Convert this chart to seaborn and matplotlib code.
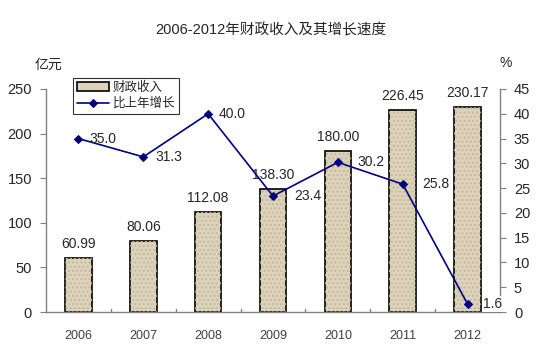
import numpy as np
import pandas as pd
import matplotlib
matplotlib.use("Agg")
import matplotlib.pyplot as plt
from matplotlib.patches import Rectangle
import seaborn as sns

years = ["2006", "2007", "2008", "2009", "2010", "2011", "2012"]
revenue = [60.99, 80.06, 112.08, 138.30, 180.00, 226.45, 230.17]
growth = [35.0, 31.3, 40.0, 23.4, 30.2, 25.8, 1.6]

sns.set_style("white")
plt.rcParams['font.family'] = ['Liberation Sans', 'Noto Sans CJK SC', 'DejaVu Sans']

df = pd.DataFrame({"year": years, "revenue": revenue, "growth": growth})

fig = plt.figure(figsize=(5.39, 3.54), dpi=100)
ax = fig.add_axes([46 / 539, 1 - 312 / 354, 454 / 539, 223 / 354])

sns.barplot(data=df, x="year", y="revenue", ax=ax, color="#ddd3ba",
            width=0.41, edgecolor="black", linewidth=1.2, saturation=1,
            label="财政收入")
# light texture on the bars
for p in list(ax.patches):
    ax.add_patch(Rectangle(p.get_xy(), p.get_width(), p.get_height(),
                           facecolor="none", edgecolor="#c4b89c", hatch="....",
                           lw=0, zorder=p.get_zorder() + 0.1))
ax.set_ylim(0, 250)
ax.set_xlim(-0.5, 6.5)
ax.set_yticks(range(0, 251, 50))
ax.set_xlabel("")
ax.set_ylabel("")

for i, v in enumerate(revenue):
    ax.annotate(f"{v:.2f}", (i, v), xytext=(0, 5), textcoords="offset points",
                ha="center", va="bottom", fontsize=10)

ax2 = ax.twinx()
sns.lineplot(x=np.arange(len(years)), y=growth, ax=ax2, color="#000080",
             marker="D", markersize=4.5, markeredgecolor="#000080",
             linewidth=1.2, label="比上年增长", legend=False)
ax2.set_ylim(0, 45)
ax2.set_yticks(range(0, 46, 5))
ax2.set_xlim(-0.5, 6.5)

label_dx = [11, 12, 10, 21, 20, 20, 15]
for i, v in enumerate(growth):
    bbox = dict(facecolor="white", edgecolor="none", pad=0.5) if i == 6 else None
    ax2.annotate(f"{v:.1f}", (i, v), xytext=(label_dx[i], 0), textcoords="offset pixels",
                 ha="left", va="center", fontsize=10, bbox=bbox)

# spines and ticks
for a in (ax, ax2):
    a.spines["top"].set_visible(False)
    for s in ("left", "right", "bottom"):
        a.spines[s].set_color("#808080")
        a.spines[s].set_linewidth(1.0)
ax.spines["right"].set_visible(False)
ax2.spines["left"].set_visible(False)
ax2.spines["bottom"].set_visible(False)

ax.tick_params(axis="y", direction="out", length=4, color="#808080",
               labelsize=10.5, left=True, pad=6)
ax2.tick_params(axis="y", direction="out", length=4, color="#808080",
                labelsize=10.5, right=True, pad=6)
ax.set_xticks(np.arange(len(years)))
ax.set_xticklabels(years, fontsize=9, color="#404040")
ax.tick_params(axis="x", length=0, pad=13)
for b in np.arange(0.5, 6, 1.0):
    ax.plot([b, b], [0, 3], color="#808080", lw=1.0, clip_on=False)

fig.text(271 / 539, 1 - 30 / 354, "2006-2012年财政收入及其增长速度",
         ha="center", va="center", fontsize=10.5)
fig.text(48 / 539, 1 - 65 / 354, "亿元", ha="center", va="center", fontsize=10)
fig.text(506 / 539, 1 - 63 / 354, "%", ha="center", va="center", fontsize=10)

h1, l1 = ax.get_legend_handles_labels()
h2, l2 = ax2.get_legend_handles_labels()
leg = ax.legend(h1[:1] + h2, l1[:1] + l2, loc="upper left",
                bbox_to_anchor=(73 / 539, 1 - 78 / 354), bbox_transform=fig.transFigure,
                frameon=True, fancybox=False, edgecolor="black", fontsize=9,
                handlelength=2.6, handletextpad=0.3, borderpad=0.3,
                labelspacing=0.3, borderaxespad=0)
leg.get_frame().set_linewidth(0.8)
leg.set_zorder(10)

fig.savefig("out.png", dpi=100)
